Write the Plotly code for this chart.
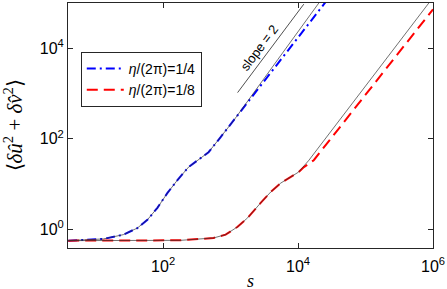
import plotly.graph_objects as go

# eta/(2pi) = 1/4 (blue dash-dot) and its thin black reference curve
s_blue = [3.92, 13.0, 25.7, 41.5, 58.5, 82.2, 116, 163, 238, 324, 471, 708, 1110, 5010, 24200, 39800]
v_blue = [0.553, 0.603, 0.75, 1.05, 1.60, 2.94, 6.28, 12.1, 23.4, 33.3, 50.0, 107, 251, 4570, 94400, 245000]
s_blue_ref = [3.92, 13.0, 25.7, 41.5, 58.5, 82.2, 116, 163, 238, 324, 471, 708, 1110, 5010, 19700, 39800]
v_blue_ref = [0.553, 0.603, 0.75, 1.05, 1.60, 2.94, 6.28, 12.1, 23.4, 33.3, 50.0, 107, 251, 5620, 94400, 398000]

# eta/(2pi) = 1/8 (red dashed) and its thin black reference curve
s_red = [3.92, 31.6, 181, 558, 843, 1270, 1790, 2790, 3940, 5550, 7800, 10200, 12200, 17100, 100000, 1000000]
v_red = [0.553, 0.553, 0.562, 0.634, 0.75, 1.12, 1.77, 3.78, 6.61, 10.4, 14.1, 18.2, 23.4, 33.3, 935, 72400]
s_red_ref = [3.92, 31.6, 181, 558, 843, 1270, 1790, 2790, 3940, 5550, 7800, 10200, 14500, 100000, 1000000]
v_red_ref = [0.553, 0.553, 0.562, 0.634, 0.75, 1.12, 1.77, 3.78, 6.61, 10.4, 14.1, 18.2, 33.3, 1450, 132000]

# slope = 2 guide line
s_slope = [1270, 12160]
v_slope = [1042, 94200]

x_tickvals = [1e2, 1e4, 1e6]
x_ticktext = ["10<sup>2</sup>", "10<sup>4</sup>", "10<sup>6</sup>"]
y_tickvals = [1e0, 1e2, 1e4]
y_ticktext = ["10<sup>0</sup>", "10<sup>2</sup>", "10<sup>4</sup>"]

legend_names = ["<i>η</i>/(2π)=1/4", "<i>η</i>/(2π)=1/8"]

fig = go.Figure()
fig.add_trace(go.Scatter(x=s_blue, y=v_blue, mode="lines", name=legend_names[0],
                         line=dict(color="rgb(0,0,255)", width=2, dash="9px,4px,2px,4px")))
fig.add_trace(go.Scatter(x=s_red, y=v_red, mode="lines", name=legend_names[1],
                         line=dict(color="rgb(255,0,0)", width=2, dash="11px,6px")))
fig.add_trace(go.Scatter(x=s_blue_ref, y=v_blue_ref, mode="lines", showlegend=False,
                         line=dict(color="#333333", width=0.7)))
fig.add_trace(go.Scatter(x=s_red_ref, y=v_red_ref, mode="lines", showlegend=False,
                         line=dict(color="#333333", width=0.7)))
fig.add_trace(go.Scatter(x=s_slope, y=v_slope, mode="lines", showlegend=False,
                         line=dict(color="#222222", width=0.8)))

axis_common = dict(type="log", showgrid=False, zeroline=False, showline=True, mirror="ticks",
                   linecolor="#262626", linewidth=1, ticks="inside", ticklen=5,
                   tickcolor="#262626", tickfont=dict(family="Liberation Sans, Arial", size=16, color="#000"))

fig.update_xaxes(range=[0.59, 6.0], tickvals=x_tickvals, ticktext=x_ticktext,
                 ticklabelstandoff=4, **axis_common)
fig.update_yaxes(range=[-0.42, 5.0], tickvals=y_tickvals, ticktext=y_ticktext, **axis_common)

fig.add_annotation(x=3.431, y=4.007, xref="x", yref="y", text="slope = 2", showarrow=False,
                   textangle=-53, font=dict(family="Liberation Sans, Arial", size=13, color="#000"))
fig.add_annotation(x=-0.148, y=0.5, xref="paper", yref="paper", text="⟨<i>δû</i><sup>2</sup> + <i>δv̂</i><sup>2</sup>⟩",
                   showarrow=False, textangle=-90, xanchor="center", yanchor="middle",
                   font=dict(family="Liberation Serif, Times New Roman", size=21, color="#000"))
fig.add_annotation(x=0.5, y=-0.136, xref="paper", yref="paper", text="<i>s</i>",
                   showarrow=False, xanchor="center", yanchor="middle",
                   font=dict(family="Liberation Serif, Times New Roman", size=18, color="#000"))

fig.update_layout(
    width=447, height=289,
    margin=dict(l=68, r=14, t=3, b=41),
    plot_bgcolor="white", paper_bgcolor="white",
    showlegend=True,
    legend=dict(x=0.035, y=0.80, xanchor="left", yanchor="top",
                bgcolor="white", bordercolor="#262626", borderwidth=1,
                font=dict(family="Liberation Sans, Arial", size=14, color="#000"),
                itemwidth=37, tracegroupgap=0),
)

fig.write_html("out.html", config={"displayModeBar": False},
               post_script="document.body.style.margin='0';document.body.style.padding='0';")
